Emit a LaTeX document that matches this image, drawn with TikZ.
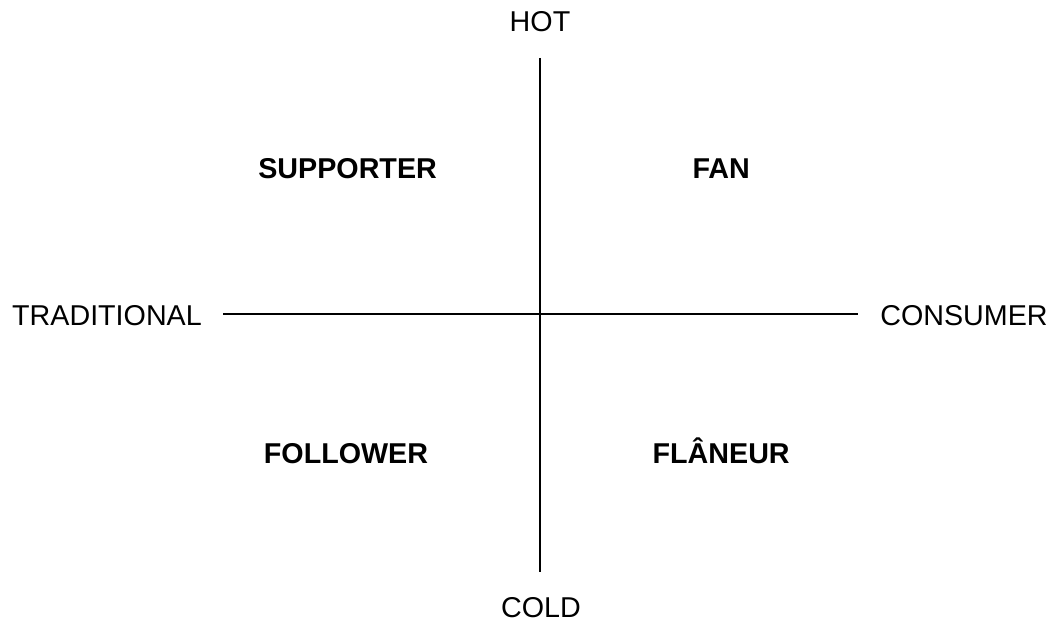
\documentclass[tikz,border=0pt]{standalone}
\usepackage{fontspec}
\setmainfont{Liberation Sans}
\usepackage{tikz}
\usetikzlibrary{positioning}

\tikzset{
  axislabel/.style={anchor=base, inner sep=0pt, font=\fontsize{20.4}{24}\selectfont},
  quadlabel/.style={anchor=base, inner sep=0pt, font=\fontsize{20.4}{24}\selectfont\bfseries},
  axisline/.style={line width=1.3pt, black}
}

\begin{document}
\begin{tikzpicture}
    \useasboundingbox (0,0) rectangle (26.325,15.575);
    % axis ends
    \coordinate (top) at (13.51,14.125);
    \coordinate (bottom) at (13.51,1.275);
    \coordinate (left) at (5.575,7.725);
    \coordinate (right) at (21.45,7.725);
    \draw[axisline] (top) -- (bottom);
    \draw[axisline] (left) -- (right);
    % axis labels
    \node[axislabel] (hot) at (13.5,14.775) {HOT};
    \node[axislabel] (cold) at (13.525,0.13) {COLD};
    \node[axislabel] (trad) at (2.675,7.45) {TRADITIONAL};
    \node[axislabel] (cons) at (24.1,7.45) {CONSUMER};
    % quadrants
    \node[quadlabel] (supporter) at (8.69,11.125) {SUPPORTER};
    \node[quadlabel] (fan) at (18.03,11.125) {FAN};
    \node[quadlabel] (follower) at (8.65,3.99) {FOLLOWER};
    \node[quadlabel] (flaneur) at (18.03,3.99) {FLÂNEUR};
\end{tikzpicture}
\end{document}
